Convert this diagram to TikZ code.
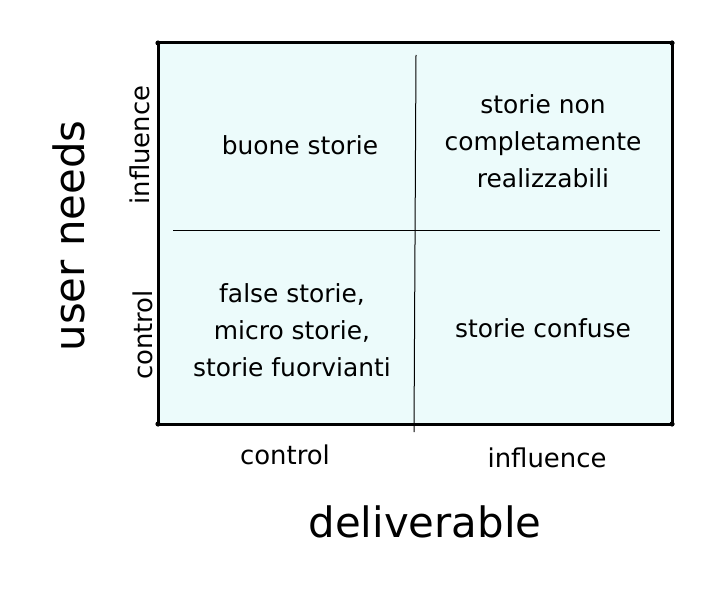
\documentclass[tikz,border=0pt]{standalone}
\usepackage{fontspec}
\setmainfont{DejaVu Sans}
\usepackage{xcolor}
\definecolor{gridfill}{RGB}{236,251,251}

\begin{document}
\begin{tikzpicture}[x=1bp,y=-1bp,
    cell/.style={align=center,font=\fontsize{25}{37}\selectfont},
    tick/.style={font=\fontsize{26}{30}\selectfont},
    axis/.style={font=\fontsize{42}{46}\selectfont}]
        \def\xl{158}
        \def\xr{672}
        \def\yt{43}
        \def\yb{424}

        \useasboundingbox (0,0) rectangle (720,594);

        %------------------
        % box
        %------------------

        \fill[gridfill] (\xl,\yt) rectangle (\xr,\yb);
        \draw[line width=3bp] (\xl,\yt) rectangle (\xr,\yb);
        \foreach \p in {(\xl,\yt),(\xr,\yt),(\xl,\yb),(\xr,\yb)}
          \fill \p circle (2.6);

        % cross
        \draw[line width=1bp] (416,55)--(414,432);
        \draw[line width=1bp] (173,230)--(660,230);

        %------------------
        % cells
        %------------------

        \node[cell] (good) at (300,145) {buone storie};
        \node[cell] (partial) at (543,141) {storie non\\completamente\\realizzabili};
        \node[cell] (false) at (292,330) {false storie,\\micro storie,\\storie fuorvianti};
        \node[cell] (confused) at (543,328) {storie confuse};

        %------------------
        % axes
        %------------------

        \node[tick] (xctl) at (285,455) {control};
        \node[tick] (xinf) at (547,458) {influence};
        \node[axis] (xlab) at (425,522) {deliverable};

        \node[tick,rotate=90] (yinf) at (140,145) {influence};
        \node[tick,rotate=90] (yctl) at (143,335) {control};
        \node[axis,rotate=90] (ylab) at (69,236) {user needs};
      \end{tikzpicture}
\end{document}
